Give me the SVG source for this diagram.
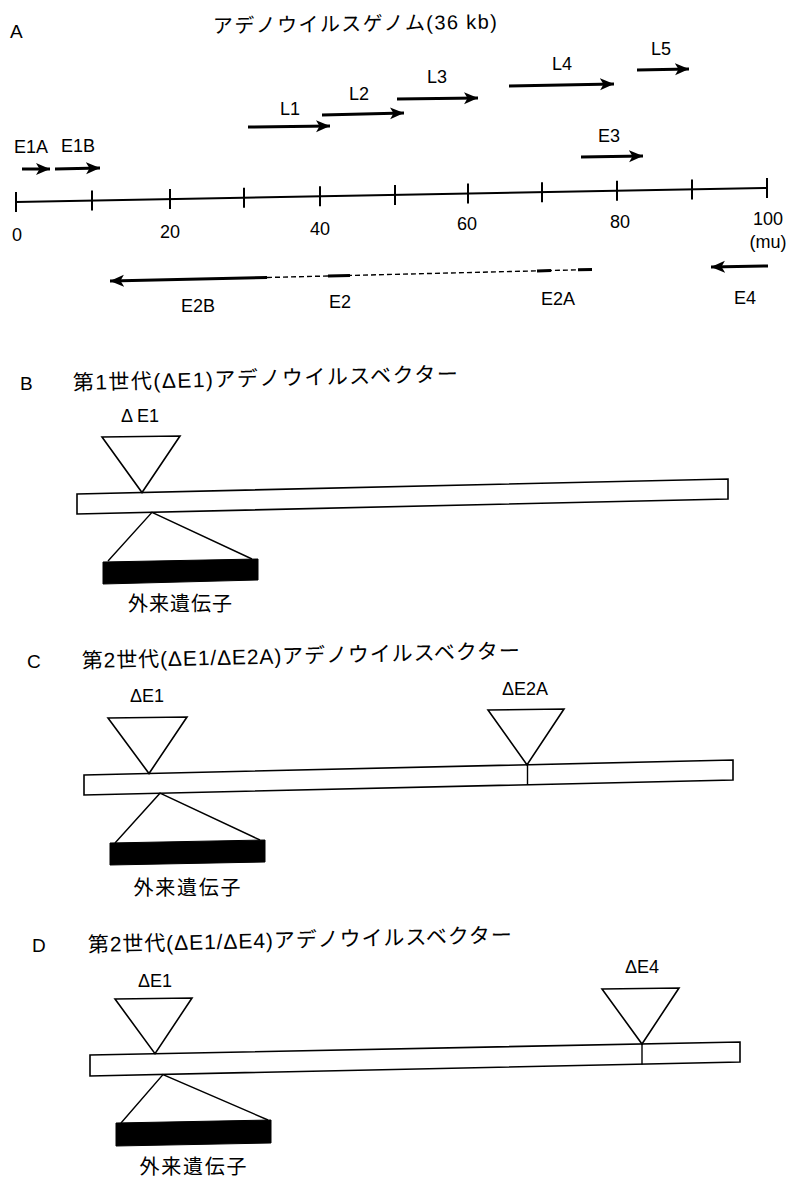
<svg xmlns="http://www.w3.org/2000/svg" width="790" height="1179" viewBox="0 0 790 1179">
<style>
.lbl{font-family:"Liberation Sans",Arial,sans-serif;font-size:18px;fill:#000}
.num{font-family:"Liberation Sans",Arial,sans-serif;font-size:18px;fill:#000;text-anchor:middle}
.pl{font-family:"Liberation Sans",Arial,sans-serif;font-size:19px;fill:#000}
.jp{font-family:"Liberation Sans","Noto Sans CJK JP",sans-serif;font-size:20px;fill:#000}
.jp2{font-family:"Liberation Sans","Noto Sans CJK JP",sans-serif;font-size:21px;fill:#000}
.gene{font-family:"Noto Sans CJK JP",sans-serif;font-size:20px;fill:#000;text-anchor:middle}
.del{font-family:"Liberation Sans",Arial,sans-serif;font-size:18px;fill:#000;text-anchor:middle}
.arr{stroke:#000;stroke-width:3;fill:none;marker-end:url(#ah)}
.axis{stroke:#000;stroke-width:2;fill:none}
.tri{fill:#fff;stroke:#000;stroke-width:1.6;stroke-linejoin:miter}
.bar{fill:#fff;stroke:#000;stroke-width:1.6}
.ins{fill:#000;stroke:#000;stroke-width:1}
.thin{fill:none;stroke:#000;stroke-width:1.4}
</style>
<defs>
<marker id="ah" markerUnits="userSpaceOnUse" markerWidth="16" markerHeight="14" refX="14" refY="6" orient="auto">
<path d="M0,0 L14,6 L0,12 L3.5,6 Z" fill="#000"/>
</marker>
</defs>

<g id="panelA">
<text class="pl" x="10" y="38">A</text>
<text class="jp" x="213" y="33" textLength="284" lengthAdjust="spacing" transform="rotate(-0.9 213 33)">アデノウイルスゲノム(36 kb)</text>
<g id="axis">
<line class="axis" x1="16" y1="202" x2="767" y2="188"/>
<line class="axis" x1="16" y1="192" x2="16" y2="212"/>
<line class="axis" x1="92" y1="190.6" x2="92" y2="210.6"/>
<line class="axis" x1="170" y1="189.1" x2="170" y2="209.1"/>
<line class="axis" x1="244" y1="187.8" x2="244" y2="207.8"/>
<line class="axis" x1="320" y1="186.3" x2="320" y2="206.3"/>
<line class="axis" x1="395" y1="184.9" x2="395" y2="204.9"/>
<line class="axis" x1="468" y1="183.6" x2="468" y2="203.6"/>
<line class="axis" x1="542" y1="182.2" x2="542" y2="202.2"/>
<line class="axis" x1="617" y1="180.8" x2="617" y2="200.8"/>
<line class="axis" x1="692" y1="179.4" x2="692" y2="199.4"/>
<line class="axis" x1="767" y1="178" x2="767" y2="198"/>
<text class="num" x="17" y="241">0</text>
<text class="num" x="170" y="238">20</text>
<text class="num" x="320" y="235">40</text>
<text class="num" x="467" y="230">60</text>
<text class="num" x="620" y="228">80</text>
<text class="num" x="768" y="225">100</text>
<text class="num" x="768" y="248">(mu)</text>
</g>
<g id="genes-top">
<line class="arr" x1="22" y1="169" x2="50" y2="169"/>
<line class="arr" x1="55" y1="169" x2="100" y2="168"/>
<text class="lbl" x="31" y="153" text-anchor="middle">E1A</text>
<text class="lbl" x="78" y="152" text-anchor="middle">E1B</text>
<line class="arr" x1="248" y1="127" x2="330" y2="126"/>
<text class="lbl" x="290" y="115" text-anchor="middle">L1</text>
<line class="arr" x1="322" y1="115" x2="404" y2="113"/>
<text class="lbl" x="359" y="100" text-anchor="middle">L2</text>
<line class="arr" x1="397" y1="99" x2="478" y2="98"/>
<text class="lbl" x="437" y="83" text-anchor="middle">L3</text>
<line class="arr" x1="509" y1="86" x2="614" y2="84"/>
<text class="lbl" x="562" y="70" text-anchor="middle">L4</text>
<line class="arr" x1="637" y1="70" x2="689" y2="69"/>
<text class="lbl" x="661" y="55" text-anchor="middle">L5</text>
<line class="arr" x1="581" y1="157" x2="643" y2="156"/>
<text class="lbl" x="609" y="142" text-anchor="middle">E3</text>
</g>
<g id="genes-bottom">
<line class="arr" x1="267" y1="277.5" x2="110" y2="281"/>
<line class="thin" x1="267" y1="277.5" x2="592" y2="269.5" stroke-dasharray="5 3"/>
<line stroke="#000" stroke-width="3" x1="328" y1="276" x2="350" y2="275.5"/>
<line stroke="#000" stroke-width="3" x1="537" y1="270.9" x2="551" y2="270.5"/>
<line stroke="#000" stroke-width="3" x1="578" y1="269.8" x2="592" y2="269.5"/>
<line class="arr" x1="768" y1="266" x2="711" y2="267"/>
<text class="lbl" x="198" y="312" text-anchor="middle">E2B</text>
<text class="lbl" x="340" y="308" text-anchor="middle">E2</text>
<text class="lbl" x="558" y="305" text-anchor="middle">E2A</text>
<text class="lbl" x="745" y="304" text-anchor="middle">E4</text>
</g>
</g>

<g id="panelB">
<text class="pl" x="20" y="390">B</text>
<text class="jp2" x="73" y="390" textLength="385" lengthAdjust="spacing" transform="rotate(-1.3 73 390)">第1世代(ΔE1)アデノウイルスベクター</text>
<text class="del" x="140" y="422">Δ<tspan dx="4">E1</tspan></text>
<polygon class="bar" points="77,494 728,479 728,499 77,514"/>
<polygon class="tri" points="102,437 180,436 142,492.5"/>
<polyline class="thin" points="108,561 152,512.3 252,559"/>
<polygon class="ins" points="103,562 258,559 258,580 103,584"/>
<text class="gene" x="180" y="611" textLength="104" lengthAdjust="spacing">外来遺伝子</text>
</g>

<g id="panelC">
<text class="pl" x="27" y="668">C</text>
<text class="jp2" x="82" y="668" textLength="438" lengthAdjust="spacing" transform="rotate(-1.3 82 668)">第2世代(ΔE1/ΔE2A)アデノウイルスベクター</text>
<text class="del" x="147" y="702">ΔE1</text>
<text class="del" x="525" y="695">ΔE2A</text>
<polygon class="bar" points="84,775 733,760 733,780 84,795"/>
<line class="thin" x1="527.5" y1="764.8" x2="527.5" y2="784.8"/>
<polygon class="tri" points="108,718 187,717 149,773.5"/>
<polygon class="tri" points="488,710 564,709 527,764.8"/>
<polyline class="thin" points="115,843 160,793.2 260,840"/>
<polygon class="ins" points="110,843 265,840 265,862 110,865"/>
<text class="gene" x="187" y="895" textLength="107" lengthAdjust="spacing">外来遺伝子</text>
</g>

<g id="panelD">
<text class="pl" x="32" y="952">D</text>
<text class="jp2" x="88" y="952" textLength="424" lengthAdjust="spacing" transform="rotate(-1.3 88 952)">第2世代(ΔE1/ΔE4)アデノウイルスベクター</text>
<text class="del" x="155" y="987">ΔE1</text>
<text class="del" x="642" y="973">ΔE4</text>
<polygon class="bar" points="90,1055 740,1042 740,1062 90,1076"/>
<line class="thin" x1="642" y1="1044" x2="642" y2="1064.6"/>
<polygon class="tri" points="115,999 192,998 155,1053.7"/>
<polygon class="tri" points="602,989 679,988 642,1044"/>
<polyline class="thin" points="121,1123 163,1074.5 268,1120"/>
<polygon class="ins" points="116,1123 271,1120 271,1143 116,1146"/>
<text class="gene" x="193" y="1174" textLength="107" lengthAdjust="spacing">外来遺伝子</text>
</g>
</svg>
